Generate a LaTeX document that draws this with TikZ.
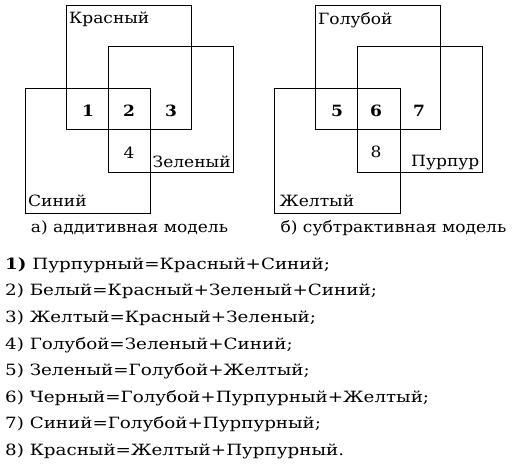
\documentclass[tikz,border=0pt]{standalone}
\usepackage{fontspec}
\setmainfont[FakeStretch=1.1]{DejaVu Serif}
\newfontfamily\eqfnt[FakeStretch=1.18]{DejaVu Serif}
\begin{document}
\begin{tikzpicture}[x=1pt,y=-1pt,
  sq/.style={draw,line width=0.9pt},
  lbl/.style={anchor=base west,inner sep=0pt,font=\fontsize{15.5}{15.5}\selectfont},
  num/.style={anchor=base,inner sep=0pt,font=\fontsize{15.5}{15.5}\selectfont},
  captxt/.style={anchor=base,inner sep=0pt,font=\fontsize{15.5}{15.5}\selectfont},
  eq/.style={anchor=base west,inner sep=0pt,font=\eqfnt\fontsize{15.5}{15.5}\selectfont}]
\useasboundingbox (0,0) rectangle (518,469);
% additive model
\draw[sq] (66.3,5.3) rectangle (191.7,129.7);
\draw[sq] (108.3,46.7) rectangle (233.3,172.3);
\draw[sq] (25.3,88.3) rectangle (150.3,213.3);
\node[lbl] (red) at (69,23.5) {Красный};
\node[lbl] (green) at (152.5,167.2) {Зеленый};
\node[lbl] (blue) at (28,206.5) {Синий};
\node[num] (n1) at (88,116.6) {\bfseries 1};
\node[num] (n2) at (129,116.6) {\bfseries 2};
\node[num] (n3) at (171,116.6) {\bfseries 3};
\node[num] (n4) at (129,158.3) {4};
\node[captxt] (capa) at (129.5,232.2) {а) аддитивная модель};
% subtractive model
\draw[sq] (315.3,5.3) rectangle (440.7,129.7);
\draw[sq] (357.3,46.7) rectangle (482.3,172.3);
\draw[sq] (274,88.3) rectangle (400.3,213.3);
\node[lbl] (cyan) at (318,24) {Голубой};
\node[lbl] (magenta) at (411,166.6) {Пурпур};
\node[lbl] (yellow) at (279.5,206.5) {Желтый};
\node[num] (n5) at (337,116.6) {\bfseries 5};
\node[num] (n6) at (376,116.6) {\bfseries 6};
\node[num] (n7) at (419,116.6) {\bfseries 7};
\node[num] (n8) at (376,157) {8};
\node[captxt] (capb) at (393.5,232.2) {б) субтрактивная модель};
% equations
\node[eq] (e1) at (5,269.3) {\textbf{1)} Пурпурный=Красный+Синий;};
\node[eq] (e2) at (5,295.9) {2) Белый=Красный+Зеленый+Синий;};
\node[eq] (e3) at (5,322.5) {3) Желтый=Красный+Зеленый;};
\node[eq] (e4) at (5,349.1) {4) Голубой=Зеленый+Синий;};
\node[eq] (e5) at (5,375.7) {5) Зеленый=Голубой+Желтый;};
\node[eq] (e6) at (5,402.3) {6) Черный=Голубой+Пурпурный+Желтый;};
\node[eq] (e7) at (5,428.9) {7) Синий=Голубой+Пурпурный;};
\node[eq] (e8) at (5,455.5) {8) Красный=Желтый+Пурпурный.};
\end{tikzpicture}
\end{document}
